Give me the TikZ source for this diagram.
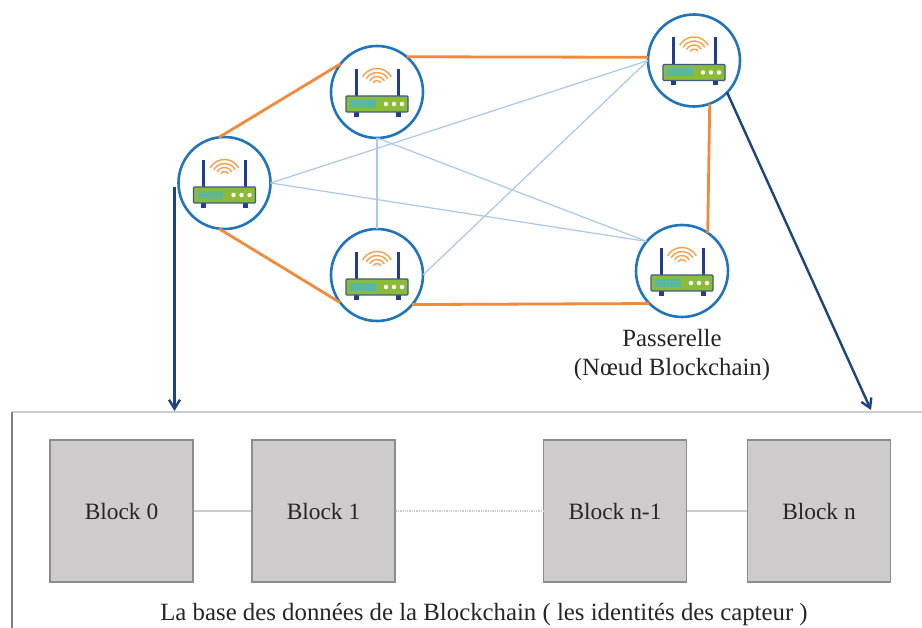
\documentclass[tikz,border=0pt]{standalone}
\usepackage{fontspec}
\setmainfont{Liberation Serif}
\usetikzlibrary{arrows.meta}
\definecolor{ringblue}{HTML}{1F74BC}
\definecolor{linkorange}{HTML}{F08A3C}
\definecolor{meshblue}{HTML}{A9C8EA}
\definecolor{navyarrow}{HTML}{1B4480}
\definecolor{routergreen}{HTML}{8CBB3A}
\definecolor{routeredge}{HTML}{3C5C88}
\definecolor{antenna}{HTML}{233C8C}
\definecolor{wifi}{HTML}{F6A04A}
\definecolor{ledcolor}{HTML}{4FB8B0}
\definecolor{blockfill}{HTML}{CDCBCC}
\definecolor{blockedge}{HTML}{8C8C8C}
\definecolor{framegrey}{HTML}{CCCCCC}
\tikzset{
  x=1pt,y=-1pt,
  ring/.style={circle,draw=ringblue,line width=2.6pt,fill=white,minimum size=92pt,inner sep=0pt,outer sep=0pt},
  orangelink/.style={draw=linkorange,line width=2.8pt},
  meshlink/.style={draw=meshblue,line width=1.2pt},
  navylink/.style={draw=navyarrow,line width=2.4pt,-{Straight Barb[length=9pt,width=11pt,line width=2.4pt]}},
  blockbox/.style={rectangle,draw=blockedge,fill=blockfill,line width=1.2pt,minimum width=143pt,minimum height=142pt,inner sep=0pt,text=black!85,font=\fontsize{23.4}{26}\selectfont},
  chainlink/.style={draw=framegrey,line width=1.3pt},
  caption/.style={font=\fontsize{24.8}{29}\selectfont,align=center,text=black!85},
  router/.pic={
    \draw[antenna,line width=3pt] (-21,-23) -- (-21,5);
    \draw[antenna,line width=3pt] (21,-23) -- (21,5);
    \fill[antenna] (-23.5,19) rectangle (-18.5,25);
    \fill[antenna] (18.5,19) rectangle (23.5,25);
    \draw[fill=routergreen,draw=routeredge,line width=1.4pt,rounded corners=1pt] (-31,4) rectangle (31,20);
    \fill[ledcolor!55!routergreen] (-27,8) rectangle (-2,16);
    \foreach \i in {0,...,8}{\draw[ledcolor,line width=1.2pt] (-26+3*\i,8) -- (-26+3*\i,16);}
    \foreach \i in {9,17,25}{\fill[white] (\i,12) circle (2.2pt);}
    \foreach \r in {4.5,8.5,12.5,16.5}{
      \draw[wifi,line width=1.4pt] ({-.866*\r},{-7-.5*\r}) arc[start angle=150,end angle=30,x radius=\r,y radius=-\r];
    }
  }
}
\begin{document}
\begin{tikzpicture}
\useasboundingbox (0,0) rectangle (922,628);
\fill[white] (0,0) rectangle (922,628);

\node[ring] (A) at (224.5,183) {};
\node[ring] (B) at (377,92) {};
\node[ring] (C) at (694,60.5) {};
\node[ring] (D) at (377,275) {};
\node[ring] (E) at (682,271) {};

\draw[meshlink] (A.east) -- (C.west);
\draw[meshlink] (A.east) -- (E.140);
\draw[meshlink] (B.south) -- (E.140);
\draw[meshlink] (D.north) -- (B.south);
\draw[meshlink] (D.east) -- (C.west);

\draw[orangelink] (A.97) -- (B.142);
\draw[orangelink] (B.50) -- (C.176);
\draw[orangelink] (C.-70) -- (E.56);
\draw[orangelink] (E.-135) -- (D.-40);
\draw[orangelink] (D.-143) -- (A.-97);

\path (A) pic {router};
\path (B) pic {router};
\path (C) pic {router};
\path (D) pic {router};
\path (E) pic {router};

\node[caption] (P) at (672,355) {Passerelle\\(Nœud Blockchain)};

\coordinate (frameBL) at (12,628);
\coordinate (frameTL) at (12,412);
\coordinate (frameTR) at (922,412);
\draw[draw=framegrey,line width=1.6pt] (frameTL) -- (frameTR);
\draw[draw=gray,line width=1.3pt] (frameBL) -- (frameTL);

\coordinate (arrA) at (174.5,411);
\coordinate (arrC) at (871,410);
\coordinate (startA) at (174.5,187);
\draw[navylink] (startA) -- (arrA);
\draw[navylink] (C.-44) -- (arrC);

\node[blockbox] (b0) at (121.5,511) {Block 0};
\node[blockbox] (b1) at (323.5,511) {Block 1};
\node[blockbox] (bn1) at (615,511) {Block n-1};
\node[blockbox] (bn) at (819,511) {Block n};
\draw[chainlink] (b0) -- (b1);
\draw[chainlink,densely dotted] (b1) -- (bn1);
\draw[chainlink] (bn1) -- (bn);

\node[caption] (T) at (484,615) {La base des données de la Blockchain ( les identités des capteur )};
\end{tikzpicture}
\end{document}
